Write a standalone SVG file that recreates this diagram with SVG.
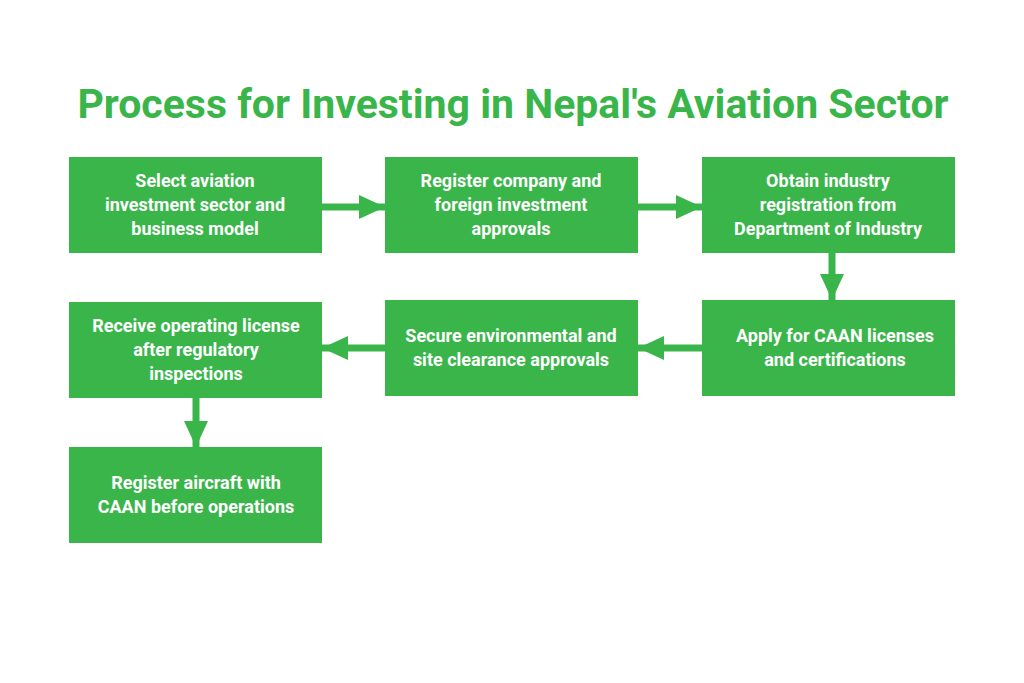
<svg xmlns="http://www.w3.org/2000/svg" width="1024" height="683" viewBox="0 0 1024 683">
<style>
.box{fill:#39b54a}
.t{font-family:Roboto,"Liberation Sans",sans-serif;font-weight:bold;font-size:18px;fill:#fff;text-anchor:middle}
.title{font-family:Roboto,"Liberation Sans",sans-serif;font-weight:bold;font-size:41px;fill:#39b54a;text-anchor:middle}
.c{stroke:#39b54a;stroke-width:7;fill:none}
</style>
<defs><marker id="ah" markerUnits="userSpaceOnUse" markerWidth="28" markerHeight="28" refX="26" refY="14" orient="auto"><path d="M0,2 L26,14 L0,26 Z" fill="#39b54a"/></marker></defs>
<rect width="1024" height="683" fill="#fff"/>
<text class="title" x="513" y="118">Process for Investing in Nepal's Aviation Sector</text>
<g id="n1"><rect class="box" x="69" y="157" width="253" height="96"/><text class="t" x="195" y="187">Select aviation</text><text class="t" x="195" y="211">investment sector and</text><text class="t" x="195" y="235">business model</text></g>
<g id="n2"><rect class="box" x="385" y="157" width="253" height="96"/><text class="t" x="511" y="187">Register company and</text><text class="t" x="511" y="211">foreign investment</text><text class="t" x="511" y="235">approvals</text></g>
<g id="n3"><rect class="box" x="702" y="157" width="253" height="96"/><text class="t" x="828" y="187">Obtain industry</text><text class="t" x="828" y="211">registration from</text><text class="t" x="828" y="235">Department of Industry</text></g>
<g id="n4"><rect class="box" x="702" y="300" width="253" height="96"/><text class="t" x="835" y="342">Apply for CAAN licenses</text><text class="t" x="835" y="366">and certifications</text></g>
<g id="n5"><rect class="box" x="385" y="300" width="253" height="96"/><text class="t" x="511" y="342">Secure environmental and</text><text class="t" x="511" y="366">site clearance approvals</text></g>
<g id="n6"><rect class="box" x="69" y="302" width="253" height="96"/><text class="t" x="196" y="332">Receive operating license</text><text class="t" x="196" y="356">after regulatory</text><text class="t" x="196" y="380">inspections</text></g>
<g id="n7"><rect class="box" x="69" y="447" width="253" height="96"/><text class="t" x="196" y="489">Register aircraft with</text><text class="t" x="196" y="513">CAAN before operations</text></g>
<g id="connectors">
<line class="c" x1="322" y1="207" x2="385" y2="207" marker-end="url(#ah)"/>
<line class="c" x1="638" y1="207" x2="702" y2="207" marker-end="url(#ah)"/>
<line class="c" x1="832" y1="253" x2="832" y2="300" marker-end="url(#ah)"/>
<line class="c" x1="702" y1="348" x2="638" y2="348" marker-end="url(#ah)"/>
<line class="c" x1="385" y1="348" x2="322" y2="348" marker-end="url(#ah)"/>
<line class="c" x1="196" y1="398" x2="196" y2="447" marker-end="url(#ah)"/>
</g>
</svg>
